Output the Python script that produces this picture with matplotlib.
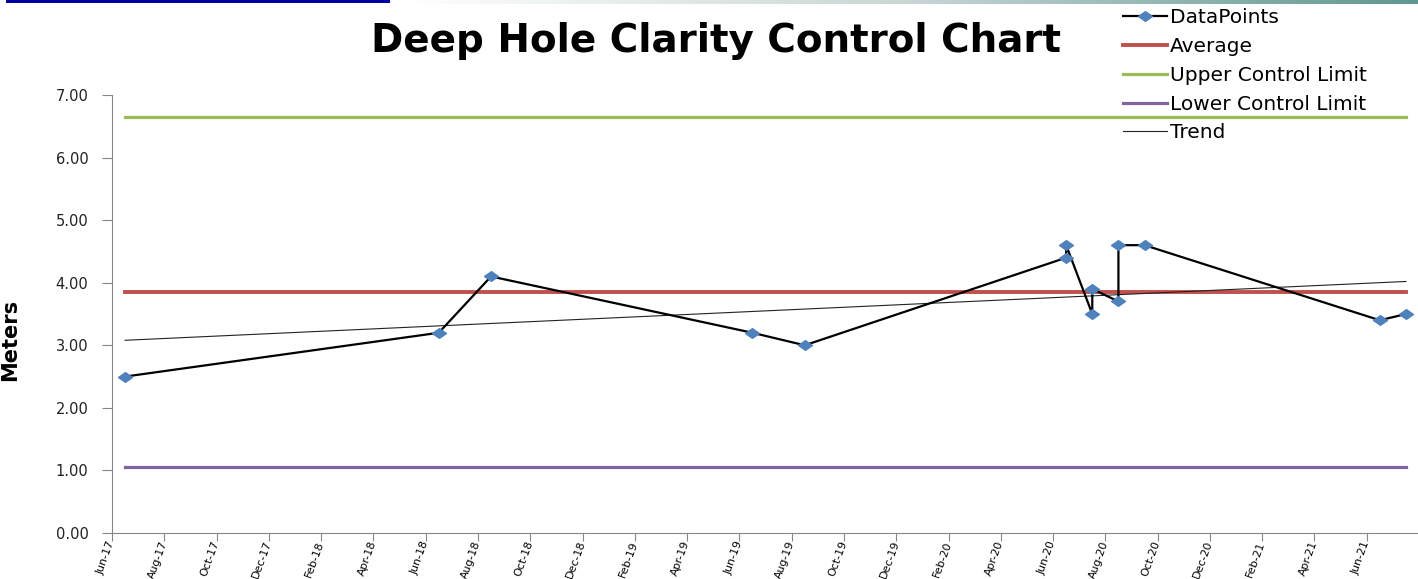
import numpy as np
import matplotlib
matplotlib.use("Agg")
import matplotlib.pyplot as plt
from matplotlib.path import Path
from matplotlib.colors import LinearSegmentedColormap

# datos
meses = ["2017-06", "2018-06", "2018-08", "2019-06", "2019-08",
         "2020-06", "2020-06", "2020-07", "2020-07", "2020-08",
         "2020-08", "2020-09", "2021-06", "2021-07"]
valores = [2.5, 3.2, 4.1, 3.2, 3.0, 4.4, 4.6, 3.5, 3.9, 3.7, 4.6, 4.6, 3.4, 3.5]

promedio = 3.85
limite_sup = 6.65
limite_inf = 1.05
tendencia = [3.08, 4.02]  # inicio y fin de la linea de tendencia

etiquetas_x = ["Jun-17", "Aug-17", "Oct-17", "Dec-17", "Feb-18", "Apr-18", "Jun-18",
               "Aug-18", "Oct-18", "Dec-18", "Feb-19", "Apr-19", "Jun-19", "Aug-19",
               "Oct-19", "Dec-19", "Feb-20", "Apr-20", "Jun-20", "Aug-20", "Oct-20",
               "Dec-20", "Feb-21", "Apr-21", "Jun-21"]
ticks_y = [0, 1, 2, 3, 4, 5, 6, 7]

# posicion de cada mes (centro del mes) contando desde Jun-17
def mes_a_x(m):
    a, b = m.split("-")
    return (int(a) - 2017) * 12 + (int(b) - 6) + 0.5

x = np.array([mes_a_x(m) for m in meses])
x_ini, x_fin = x.min(), x.max()

fig = plt.figure(figsize=(14.18, 5.79), dpi=100)
ax = fig.add_axes([112 / 1418, 46 / 579, 1 - 112 / 1418, 438 / 579])

# barras decorativas arriba
ax_azul = fig.add_axes([6 / 1418, 1 - 3 / 579, 384 / 1418, 3 / 579])
ax_azul.axhspan(0, 1, color="#0000a0")
ax_azul.set_axis_off()
ax_grad = fig.add_axes([400 / 1418, 1 - 4 / 579, 1018 / 1418, 4 / 579])
grad = np.linspace(0, 1, 256)[None, :]
cmap = LinearSegmentedColormap.from_list("g", ["#ffffff", "#c8d6d4", "#5f9890"])
ax_grad.imshow(grad, aspect="auto", cmap=cmap)
ax_grad.set_axis_off()

rombo = Path([(-1, 0), (0, 0.7), (1, 0), (0, -0.7), (-1, 0)],
             [Path.MOVETO, Path.LINETO, Path.LINETO, Path.LINETO, Path.CLOSEPOLY])

ax.plot([x_ini, x_fin], [limite_sup, limite_sup], color="#9bbb59", lw=2.3,
        label="Upper Control Limit", zorder=2)
ax.plot([x_ini, x_fin], [limite_inf, limite_inf], color="#8064a2", lw=2.3,
        label="Lower Control Limit", zorder=2)
ax.plot([x_ini, x_fin], [promedio, promedio], color="#c0504d", lw=2.8,
        label="Average", zorder=2)
ax.plot([x_ini, x_fin], tendencia, color="#222222", lw=0.8, label="Trend", zorder=3)
ax.plot(x, valores, color="black", lw=1.6, marker=rombo, markersize=10,
        markerfacecolor="#4f81bd", markeredgecolor="#4f81bd", label="DataPoints", zorder=4)

ax.set_xlim(0, 49.96)
ax.set_ylim(0, 7)
ax.set_yticks(ticks_y)
ax.set_yticklabels(["%.2f" % v for v in ticks_y], fontsize=10.5, color="#222222")
ax.set_xticks(np.arange(0, 2 * len(etiquetas_x), 2))
ax.set_xticklabels(etiquetas_x, rotation=70, ha="right", va="center",
                   rotation_mode="anchor", fontsize=7.9,
                   family=["Liberation Sans Narrow", "DejaVu Sans"])
ax.tick_params(axis="y", length=7, color="#868686", pad=10)
ax.tick_params(axis="x", length=6, color="#868686", pad=0)
for s in ["top", "right"]:
    ax.spines[s].set_visible(False)
for s in ["left", "bottom"]:
    ax.spines[s].set_color("#868686")

ax.set_ylabel("Meters", fontsize=15, fontweight="bold",
              family=["Liberation Sans Narrow", "DejaVu Sans"])
ax.yaxis.set_label_coords(-92 / 1306, (533 - 340) / 438)

fig.text(0.505, 1 - 41 / 579, "Deep Hole Clarity Control Chart", ha="center", va="center",
         fontsize=28, fontweight="bold")

h, l = ax.get_legend_handles_labels()
orden = [4, 2, 0, 1, 3]
fig.legend([h[i] for i in orden], [l[i] for i in orden], loc="upper left",
           bbox_to_anchor=(1123 / 1418, 1 - 8 / 579), frameon=False, fontsize=14.5,
           handlelength=2.2, handletextpad=0.15, labelspacing=0.49, borderpad=0,
           borderaxespad=0)

fig.savefig("out.png", dpi=100)
